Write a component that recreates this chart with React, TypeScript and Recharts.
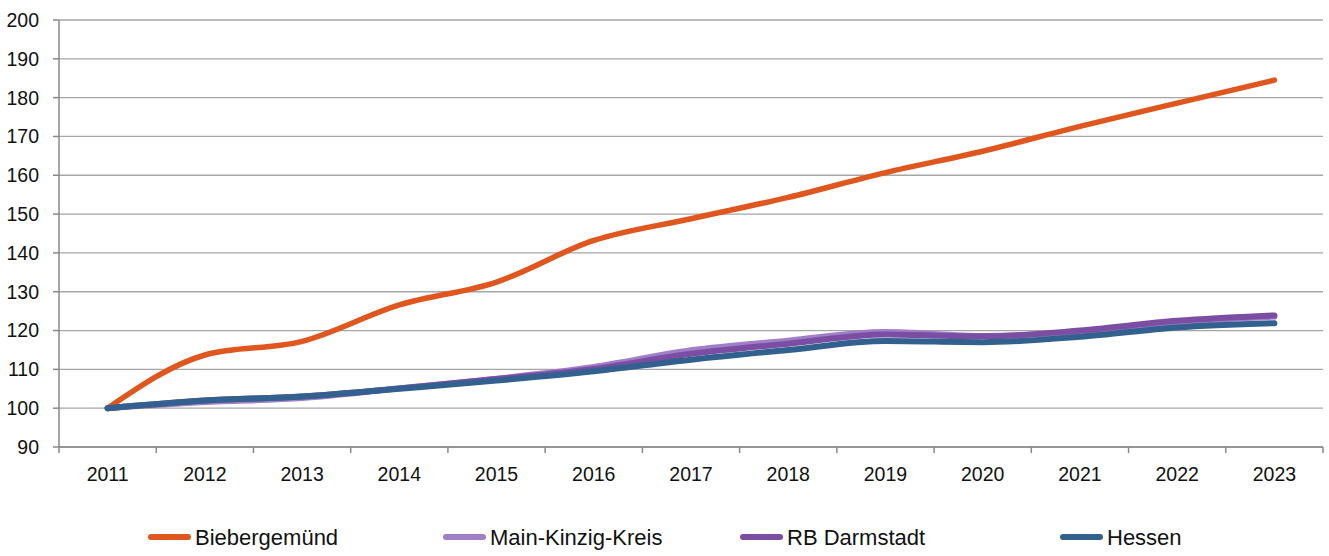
import React from "react";
import { LineChart, Line, XAxis, YAxis, CartesianGrid, Legend } from "recharts";

const years = ["2011","2012","2013","2014","2015","2016","2017","2018","2019","2020","2021","2022","2023"];
const biebergemuend = [100, 113.7, 117.2, 126.6, 132.5, 143.2, 148.8, 154.3, 160.7, 166.2, 172.6, 178.6, 184.5];
const mainKinzig = [100, 101.6, 102.6, 105.1, 107.6, 110.6, 114.9, 117.4, 119.6, 118.6, 119.6, 122.1, 123.6];
const rbDarmstadt = [100, 102.0, 103.0, 105.1, 107.5, 110.1, 114.0, 116.6, 119.0, 118.5, 120.0, 122.5, 123.9];
const hessen = [100, 102.0, 103.0, 105.0, 107.1, 109.5, 112.5, 115.0, 117.3, 117.0, 118.4, 120.8, 121.9];
const yTicks = [90,100,110,120,130,140,150,160,170,180,190,200];

const seriesNames = ["Biebergemünd", "Main-Kinzig-Kreis", "RB Darmstadt", "Hessen"];
const colors = ["#E0561F", "#A07EC8", "#7B4EA3", "#33618F"];

const data = years.map((y, i) => ({
  i,
  year: y,
  b: biebergemuend[i],
  m: mainKinzig[i],
  r: rbDarmstadt[i],
  h: hessen[i],
}));

const W = 1329;
const H = 556;
const M = { top: 20, right: 6, left: 0, bottom: 0 };
const YW = 59;
const HALF = (W - M.right - YW) / years.length / 2;
const FONT = "'Liberation Sans', Arial, sans-serif";

const XTick = (props: any) => {
  const { x, y, payload, index } = props;
  const last = index === years.length - 1 || payload.value === years.length - 1;
  return (
    <g>
      <line x1={x - HALF} x2={x - HALF} y1={y} y2={y + 6} stroke="#888" strokeWidth={1.5} />
      {last && <line x1={x + HALF} x2={x + HALF} y1={y} y2={y + 6} stroke="#888" strokeWidth={1.5} />}
      <text x={x} y={y + 34} textAnchor="middle" fontSize={19.5} fill="#111" fontFamily={FONT}>
        {years[payload.value]}
      </text>
    </g>
  );
};

const legendX = [148, 443, 740, 1060];

const LegendContent = () => (
  <svg width={W} height={40} style={{ display: "block" }}>
    {seriesNames.map((n, k) => (
      <g key={n}>
        <line x1={legendX[k] + 3} x2={legendX[k] + 40} y1={20} y2={20} stroke={colors[k]} strokeWidth={6} strokeLinecap="round" />
        <text x={legendX[k] + 47} y={20} dy="0.36em" fontSize={22} fill="#111" fontFamily={FONT}>
          {n}
        </text>
      </g>
    ))}
  </svg>
);

export default function App() {
  return (
    <div style={{ position: "absolute", left: 0, top: 0, width: W, height: H, background: "#fff" }}>
      <LineChart width={W} height={H} data={data} margin={M}>
        <CartesianGrid vertical={false} stroke="#a6a6a6" strokeWidth={1.3} />
        <XAxis
          dataKey="i"
          type="number"
          domain={[-0.5, 12.5]}
          ticks={years.map((_, i) => i)}
          interval={0}
          height={69}
          tickSize={0}
          tickMargin={0}
          tickLine={false}
          axisLine={{ stroke: "#888", strokeWidth: 1.5 }}
          tick={<XTick />}
        />
        <YAxis
          width={YW}
          domain={[90, 200]}
          ticks={yTicks}
          interval={0}
          tickSize={6}
          tickMargin={14}
          axisLine={{ stroke: "#888", strokeWidth: 1.5 }}
          tickLine={{ stroke: "#888", strokeWidth: 1.5 }}
          tick={{ fontSize: 19.5, fill: "#111", fontFamily: FONT }}
        />
        <Legend
          verticalAlign="bottom"
          content={<LegendContent />}
          wrapperStyle={{ left: 0, top: 517, width: W, height: 40 }}
        />
        <Line type="monotone" dataKey="b" name={seriesNames[0]} stroke={colors[0]} strokeWidth={5.5} dot={false} isAnimationActive={false} strokeLinecap="round" />
        <Line type="monotone" dataKey="m" name={seriesNames[1]} stroke={colors[1]} strokeWidth={6} dot={false} isAnimationActive={false} strokeLinecap="round" />
        <Line type="monotone" dataKey="r" name={seriesNames[2]} stroke={colors[2]} strokeWidth={6} dot={false} isAnimationActive={false} strokeLinecap="round" />
        <Line type="monotone" dataKey="h" name={seriesNames[3]} stroke={colors[3]} strokeWidth={6} dot={false} isAnimationActive={false} strokeLinecap="round" />
      </LineChart>
    </div>
  );
}
